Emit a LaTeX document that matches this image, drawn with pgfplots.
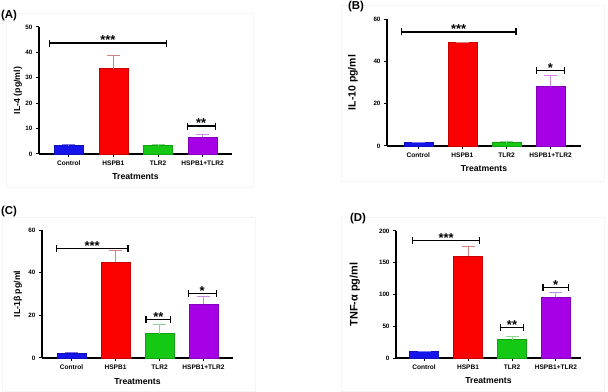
\documentclass[border=0pt]{standalone}
\usepackage{fontspec}
\setmainfont{Liberation Sans}
\usepackage{pgfplots}
\pgfplotsset{compat=1.18}
\usetikzlibrary{arrows.meta}

\definecolor{cblue}{RGB}{20,20,235}
\definecolor{cred}{RGB}{250,0,0}
\definecolor{cgreen}{RGB}{20,200,20}
\definecolor{cpurple}{RGB}{165,0,230}
\definecolor{eblue}{RGB}{120,120,235}
\definecolor{ered}{RGB}{215,130,130}
\definecolor{egreen}{RGB}{140,215,140}
\definecolor{epurple}{RGB}{200,140,230}

\tikzset{sigstar/.style={anchor=south, inner sep=0pt, yshift=-2.5bp, font=\bfseries\fontsize{13}{13}\selectfont}}

\pgfplotsset{
 panel/.style={
  scale only axis,
  axis lines=left,
  axis line style={-, line width=1.2bp, black},
  ymin=0,
  xtick={0,1,2,3},
  xticklabels={Control,HSPB1,TLR2,HSPB1+TLR2},
  tick align=outside,
  major tick length=3bp,
  tick style={line width=1bp, black},
  /pgf/number format/assume math mode=true,
  yticklabel style={font=\bfseries\fontsize{6.3}{7}\selectfont},
  xticklabel style={font=\bfseries\fontsize{6.6}{7}\selectfont},
  xlabel={Treatments},
  xlabel style={font=\bfseries\fontsize{8.7}{10}\selectfont, at={(axis description cs:0.5,-0.181)}, anchor=center},
  clip=false,
 },
 bar/.style={ybar, bar width=29bp, bar shift=0pt, fill=#1, draw=#1!80!black, line width=0.5bp},
 err/.style={#1, line width=1bp, -{Bar[width=13bp, line width=1bp]}},
 sig/.style={black, line width=1.2bp, {Bar[width=7bp]}-{Bar[width=7bp]}},
}

\begin{document}
\begin{tikzpicture}
\useasboundingbox (0,0) rectangle (608bp,392bp);

% faint panel frames
\draw[black!4, line width=0.5bp] (6bp,205bp) rectangle (253bp,379bp);
\draw[black!4, line width=0.5bp] (341bp,211bp) rectangle (604bp,387bp);
\draw[black!4, line width=0.5bp] (2bp,1bp) rectangle (255bp,175bp);
\draw[black!4, line width=0.5bp] (341bp,1bp) rectangle (604bp,175bp);

% Panel A
\begin{axis}[panel, at={(39bp,238bp)}, anchor=south west, width=193bp, height=127bp,
  xmin=-0.67, xmax=3.66, ymax=50, ytick={0,10,20,30,40,50},
  ylabel={IL-4 (pg/ml)},
  ylabel style={font=\bfseries\fontsize{8.8}{10}\selectfont, at={(axis description cs:-0.109,0.5)}, anchor=center}]
\addplot[bar=cblue] coordinates {(0,3.3)};
\addplot[bar=cred] coordinates {(1,33.6)};
\addplot[bar=cgreen] coordinates {(2,3.4)};
\addplot[bar=cpurple] coordinates {(3,6.5)};
\addplot[err=eblue] coordinates {(0,3.3) (0,3.8)};
\addplot[err=ered] coordinates {(1,33.6) (1,39.1)};
\addplot[err=egreen] coordinates {(2,3.4) (2,3.8)};
\addplot[err=epurple] coordinates {(3,6.5) (3,7.9)};
\addplot[sig] coordinates {(-0.45,43.7) (2.2,43.7)} node[pos=0.5, sigstar] {***};
\addplot[sig] coordinates {(2.64,11) (3.3,11)} node[pos=0.5, sigstar] {**};
\end{axis}

% Panel B
\begin{axis}[panel, at={(387bp,246bp)}, anchor=south west, width=194bp, height=127bp,
  xmin=-0.71, xmax=3.69, ymax=60, ytick={0,20,40,60},
  ylabel={IL-10 pg/ml},
  ylabel style={font=\bfseries\fontsize{10.5}{12}\selectfont, at={(axis description cs:-0.176,0.5)}, anchor=center}]
\addplot[bar=cblue] coordinates {(0,1.8)};
\addplot[bar=cred] coordinates {(1,49.1)};
\addplot[bar=cgreen] coordinates {(2,2.0)};
\addplot[bar=cpurple] coordinates {(3,28.4)};
\addplot[err=eblue] coordinates {(0,1.8) (0,2.1)};
\addplot[err=ered] coordinates {(1,49.1) (1,49.3)};
\addplot[err=egreen] coordinates {(2,2.0) (2,2.2)};
\addplot[err=epurple] coordinates {(3,28.4) (3,33.5)};
\addplot[sig] coordinates {(-0.4,53.9) (2.23,53.9)} node[pos=0.5, sigstar] {***};
\addplot[sig] coordinates {(2.66,35.7) (3.33,35.7)} node[pos=0.5, sigstar] {*};
\end{axis}

% Panel C
\begin{axis}[panel, at={(42bp,34bp)}, anchor=south west, width=191bp, height=128bp,
  xmin=-0.67, xmax=3.67, ymax=60, ytick={0,20,40,60},
  ylabel={IL-1β pg/ml},
  ylabel style={font=\bfseries\fontsize{8.8}{10}\selectfont, at={(axis description cs:-0.126,0.5)}, anchor=center}]
\addplot[bar=cblue] coordinates {(0,2.35)};
\addplot[bar=cred] coordinates {(1,45)};
\addplot[bar=cgreen] coordinates {(2,11.4)};
\addplot[bar=cpurple] coordinates {(3,25.1)};
\addplot[err=eblue] coordinates {(0,2.35) (0,2.7)};
\addplot[err=ered] coordinates {(1,45) (1,50.5)};
\addplot[err=egreen] coordinates {(2,11.4) (2,15.8)};
\addplot[err=epurple] coordinates {(3,25.1) (3,29)};
\addplot[sig] coordinates {(-0.36,51.3) (1.3,51.3)} node[pos=0.5, sigstar] {***};
\addplot[sig] coordinates {(1.68,18) (2.27,18)} node[pos=0.5, sigstar] {**};
\addplot[sig] coordinates {(2.64,30.1) (3.3,30.1)} node[pos=0.5, sigstar] {*};
\end{axis}

% Panel D
\begin{axis}[panel, at={(396bp,34bp)}, anchor=south west, width=185bp, height=127bp,
  xmin=-0.64, xmax=3.57, ymax=200, ytick={0,50,100,150,200},
  ylabel={TNF-α pg/ml},
  ylabel style={font=\bfseries\fontsize{11}{12}\selectfont, at={(axis description cs:-0.222,0.5)}, anchor=center}]
\addplot[bar=cblue] coordinates {(0,10.5)};
\addplot[bar=cred] coordinates {(1,161)};
\addplot[bar=cgreen] coordinates {(2,28.8)};
\addplot[bar=cpurple] coordinates {(3,96.3)};
\addplot[err=eblue] coordinates {(0,10.5) (0,11.5)};
\addplot[err=ered] coordinates {(1,161) (1,176.4)};
\addplot[err=egreen] coordinates {(2,28.8) (2,34)};
\addplot[err=epurple] coordinates {(3,96.3) (3,103.7)};
\addplot[sig] coordinates {(-0.27,184.8) (1.27,184.8)} node[pos=0.5, sigstar] {***};
\addplot[sig] coordinates {(1.73,47.6) (2.27,47.6)} node[pos=0.5, sigstar] {**};
\addplot[sig] coordinates {(2.69,111.5) (3.3,111.5)} node[pos=0.5, sigstar] {*};
\end{axis}

\node[font=\bfseries\fontsize{11.5}{12}\selectfont, anchor=center] at (9bp,376bp) {(A)};
\node[font=\bfseries\fontsize{11.5}{12}\selectfont, anchor=center] at (356bp,385bp) {(B)};
\node[font=\bfseries\fontsize{11.5}{12}\selectfont, anchor=center] at (9bp,180bp) {(C)};
\node[font=\bfseries\fontsize{11.5}{12}\selectfont, anchor=center] at (358bp,173bp) {(D)};
\end{tikzpicture}
\end{document}
